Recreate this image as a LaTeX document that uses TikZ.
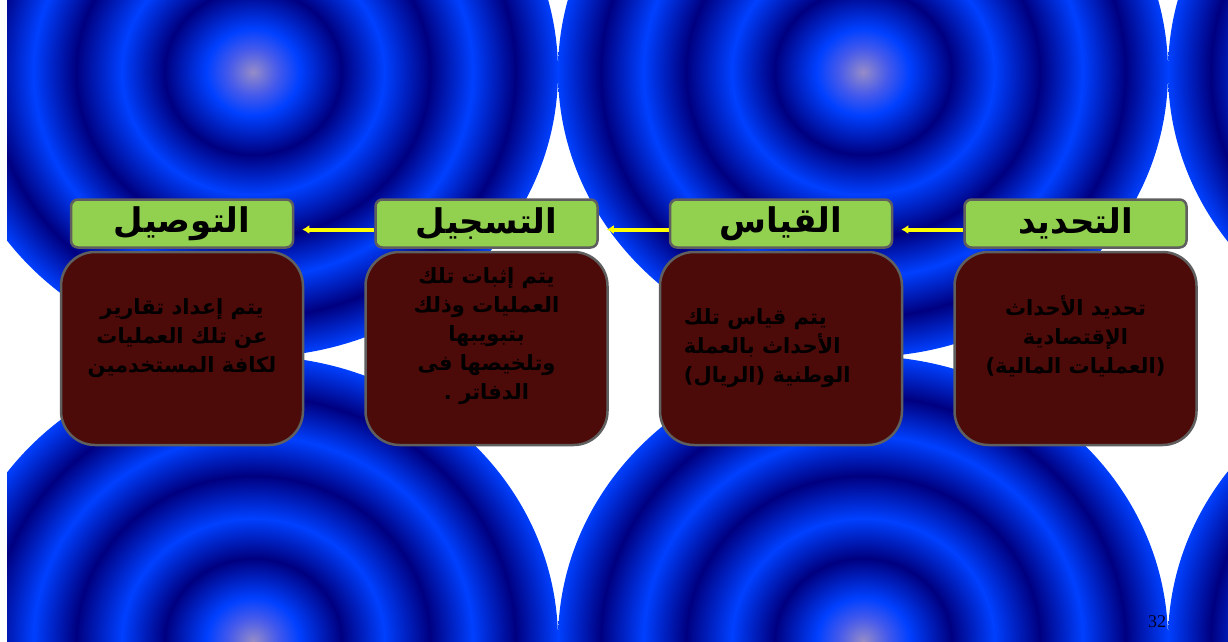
\documentclass[tikz,border=0pt]{standalone}
\usepackage{fontspec}
\newfontfamily\arabicfont[Script=Arabic]{DejaVu Sans}
\newfontfamily\numfont{Liberation Serif}
\TeXXeTstate=1
\usetikzlibrary{positioning, arrows.meta}

\definecolor{headgreen}{RGB}{146,208,80}
\definecolor{boxgray}{RGB}{95,95,95}
\definecolor{bodymaroon}{RGB}{76,10,8}
\definecolor{ringlight}{RGB}{0,64,255}
\definecolor{ringdark}{RGB}{0,0,128}
\definecolor{ringcore}{RGB}{150,140,200}
\definecolor{ringmid}{RGB}{70,90,235}
\definecolor{flowyellow}{RGB}{255,255,0}

\pgfdeclareradialshading{ringshade}{\pgfpoint{0bp}{0bp}}{%
  color(0bp)=(ringcore); color(2bp)=(ringmid); color(3.8bp)=(ringlight);
  color(7.25bp)=(ringdark); color(10.75bp)=(ringlight); color(14.5bp)=(ringdark);
  color(18bp)=(ringlight); color(21.5bp)=(ringdark); color(25bp)=(ringlight);
  color(50bp)=(ringlight)}

\begin{document}
\begin{tikzpicture}[x=1pt, y=-1pt,
    node distance=70pt,
    headbox/.style={rectangle, draw=boxgray, line width=2.5pt, fill=headgreen, rounded corners=7pt,
        minimum width=222pt, minimum height=48pt, inner sep=0pt,
        font=\arabicfont\bfseries\fontsize{34}{36}\selectfont},
    bodybox/.style={rectangle, draw=boxgray, line width=2.5pt, fill=bodymaroon, rounded corners=34pt,
        minimum width=242pt, minimum height=193pt},
    bodytext/.style={align=center, inner sep=0pt, text=black,
        font=\arabicfont\bfseries\fontsize{21}{29}\selectfont},
    flow/.style={draw=flowyellow, line width=4pt, -{Latex[length=7pt, width=9pt]}, shorten >=8pt}
]
    % background tiles
    \useasboundingbox (0,0) rectangle (1228,642);
    \fill[white] (0,0) rectangle (1228,642);
    \begin{scope}
        \clip (7,0) rectangle (1228,642);
        \foreach \cx in {253, 863, 1473}
            \foreach \cy in {72, 641}
                \shade[shading=ringshade] (\cx,\cy) ellipse [x radius=305, y radius=285];
    \end{scope}

    % headers
    \node[headbox] (detect) at (1075.5,223.5) {\beginR التحديد\endR};
    \node[headbox, left=of detect] (measure) {\beginR القياس\endR};
    \node[headbox, left=of measure] (record) {\beginR التسجيل\endR};
    \node[headbox, left=80pt of record] (report) {\beginR التوصيل\endR};

    % bodies
    \node[bodybox, below=2pt of detect] (detectbody) {};
    \node[bodybox, below=2pt of measure] (measurebody) {};
    \node[bodybox, below=2pt of record] (recordbody) {};
    \node[bodybox, below=2pt of report] (reportbody) {};

    \node[bodytext] (detecttext) at ([yshift=12pt]detectbody.center)
        {\beginR تحديد الأحداث\endR\\ \beginR الإقتصادية\endR\\ \beginR (العمليات المالية)\endR};
    \node[bodytext, align=left, anchor=west] (measuretext) at ([xshift=25pt]measurebody.west)
        {\beginR يتم قياس تلك\endR\\ \beginR الأحداث بالعملة\endR\\ \beginR الوطنية (الريال)\endR};
    \node[bodytext] (recordtext) at ([yshift=12pt]recordbody.center)
        {\beginR يتم إثبات تلك\endR\\ \beginR العمليات وذلك\endR\\ \beginR بتبويبها\endR\\
         \beginR وتلخيصها فى\endR\\ \beginR الدفاتر .\endR};
    \node[bodytext] (reporttext) at ([yshift=10pt]reportbody.center)
        {\beginR يتم إعداد تقارير\endR\\ \beginR عن تلك العمليات\endR\\ \beginR لكافة المستخدمين\endR};

    % flow arrows
    \draw[flow] ([yshift=-6pt]detect.west) -- ([yshift=-6pt]measure.east);
    \draw[flow] ([yshift=-6pt]measure.west) -- ([yshift=-6pt]record.east);
    \draw[flow] ([yshift=-6pt]record.west) -- ([yshift=-6pt]report.east);

    \node[font=\numfont\fontsize{18}{20}\selectfont, text=black!85!blue] (pagenum) at (1157,622) {32};
\end{tikzpicture}
\end{document}
